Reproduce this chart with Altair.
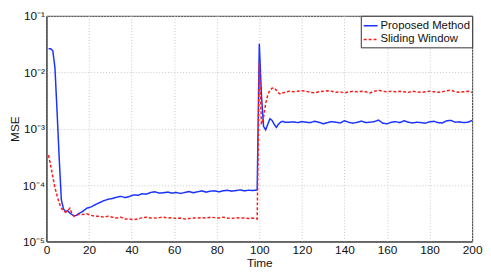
import altair as alt
import pandas as pd

time = [1, 2, 3, 4, 5, 6, 7, 8, 9, 10, 11, 12, 13, 14, 15,
        17, 19, 21, 23, 25, 27, 29, 31, 33, 35, 37, 39, 41, 43, 45, 47, 49,
        51, 53, 55, 57, 59, 61, 63, 65, 67, 69, 71, 73, 75, 77, 79, 81, 83,
        85, 87, 89, 91, 93, 95, 97, 99,
        100, 101, 102, 103, 104, 105, 106, 107, 108, 109, 110, 111, 112,
        114, 116, 118, 120, 122, 124, 126, 128, 130, 132, 134, 136, 138, 140,
        142, 144, 146, 148, 150, 152, 154, 156, 158, 160, 162, 164, 166, 168,
        170, 172, 174, 176, 178, 180, 182, 184, 186, 188, 190, 192, 194, 196,
        198, 200]

proposed = [0.026, 0.026, 0.024, 0.012, 0.002, 0.0003, 5.5e-5, 3.8e-5, 3.4e-5, 3.5e-5,
            3.2e-5, 3.0e-5, 2.85e-5, 2.9e-5, 3.1e-5,
            3.4e-5, 3.9e-5, 4.1e-5, 4.5e-5, 4.9e-5, 5.3e-5, 5.6e-5, 5.8e-5, 6.1e-5, 6.3e-5,
            6.0e-5, 6.3e-5, 6.7e-5, 6.6e-5, 7.0e-5, 6.9e-5, 7.4e-5, 7.6e-5, 7.2e-5, 7.3e-5,
            7.5e-5, 7.2e-5, 7.4e-5, 7.1e-5, 7.4e-5, 7.7e-5, 7.3e-5, 7.6e-5, 7.9e-5, 7.5e-5,
            7.8e-5, 7.9e-5, 7.6e-5, 7.9e-5, 8.1e-5, 7.8e-5, 8.0e-5, 8.2e-5, 7.9e-5, 8.1e-5,
            8.0e-5, 8.2e-5,
            0.032, 0.004, 0.0011, 0.00095, 0.0012, 0.0015, 0.0014, 0.0012, 0.00105, 0.0012,
            0.0013, 0.00135, 0.0013,
            1.30e-3, 1.32e-3, 1.28e-3, 1.33e-3, 1.30e-3, 1.28e-3, 1.35e-3, 1.30e-3, 1.22e-3,
            1.28e-3, 1.33e-3, 1.30e-3, 1.26e-3, 1.38e-3, 1.30e-3, 1.25e-3, 1.30e-3, 1.36e-3,
            1.28e-3, 1.30e-3, 1.33e-3, 1.42e-3, 1.25e-3, 1.22e-3, 1.30e-3, 1.33e-3, 1.28e-3,
            1.38e-3, 1.30e-3, 1.26e-3, 1.30e-3, 1.28e-3, 1.25e-3, 1.32e-3, 1.35e-3, 1.28e-3,
            1.26e-3, 1.38e-3, 1.40e-3, 1.30e-3, 1.32e-3, 1.28e-3, 1.30e-3, 1.40e-3]

sliding = [3.4e-4, 2.2e-4, 1.4e-4, 9e-5, 6.5e-5, 4.8e-5, 3.9e-5, 3.5e-5, 3.3e-5, 3.5e-5,
           3.9e-5, 3.1e-5, 2.8e-5, 2.9e-5, 3.0e-5,
           3.0e-5, 3.1e-5, 2.9e-5, 2.8e-5, 2.8e-5, 2.7e-5, 2.8e-5, 2.7e-5, 2.6e-5, 2.7e-5,
           2.5e-5, 2.5e-5, 2.45e-5, 2.5e-5, 2.65e-5, 2.7e-5, 2.6e-5, 2.6e-5, 2.65e-5, 2.7e-5,
           2.6e-5, 2.65e-5, 2.55e-5, 2.6e-5, 2.5e-5, 2.55e-5, 2.6e-5, 2.6e-5, 2.65e-5, 2.6e-5,
           2.7e-5, 2.65e-5, 2.6e-5, 2.7e-5, 2.6e-5, 2.55e-5, 2.65e-5, 2.6e-5, 2.6e-5, 2.55e-5,
           2.6e-5, 2.5e-5,
           0.015, 0.0012, 0.0016, 0.0028, 0.004, 0.0048, 0.0052, 0.0053, 0.0048, 0.0043,
           0.0041, 0.0043, 0.0044,
           4.6e-3, 4.5e-3, 4.6e-3, 4.7e-3, 4.6e-3, 4.4e-3, 4.3e-3, 4.5e-3, 4.6e-3, 4.7e-3,
           4.6e-3, 4.4e-3, 4.5e-3, 4.3e-3, 4.5e-3, 4.6e-3, 4.5e-3, 4.6e-3, 4.5e-3, 4.3e-3,
           4.6e-3, 4.8e-3, 4.6e-3, 4.5e-3, 4.6e-3, 4.5e-3, 4.6e-3, 4.5e-3, 4.4e-3, 4.6e-3,
           4.5e-3, 4.4e-3, 4.5e-3, 4.6e-3, 4.5e-3, 4.4e-3, 4.5e-3, 4.7e-3, 4.8e-3, 4.5e-3,
           4.4e-3, 4.5e-3, 4.6e-3, 4.4e-3]

series_names = ["Proposed Method", "Sliding Window"]
x_ticks = [0, 20, 40, 60, 80, 100, 120, 140, 160, 180, 200]
y_ticks = [1e-5, 1e-4, 1e-3, 1e-2, 1e-1]

df = pd.concat([
    pd.DataFrame({"Time": time, "MSE": proposed, "series": series_names[0]}),
    pd.DataFrame({"Time": time, "MSE": sliding, "series": series_names[1]}),
])

FONT = "Liberation Sans"

ylabel_expr = ("datum.value < 5e-5 ? '10⁻⁵' : datum.value < 5e-4 ? '10⁻⁴' : "
               "datum.value < 5e-3 ? '10⁻³' : datum.value < 5e-2 ? '10⁻²' : '10⁻¹'")

chart = alt.Chart(df).mark_line(strokeWidth=1.5).encode(
    x=alt.X("Time:Q", scale=alt.Scale(domain=[0, 200], nice=False),
            axis=alt.Axis(values=x_ticks, title="Time", grid=True,
                          gridDash=[1, 2], gridColor="#c8c8c8",
                          tickSize=0, domainColor="#333",
                          labelFont=FONT, labelFontSize=12, labelColor="#111",
                          titleFont=FONT, titleFontSize=12, titleFontWeight="normal",
                          titleColor="#111", titlePadding=2, labelPadding=3,
                          labelFlush=False)),
    y=alt.Y("MSE:Q", scale=alt.Scale(type="log", domain=[1e-5, 1e-1], nice=False),
            axis=alt.Axis(values=y_ticks, title="MSE", grid=True,
                          gridDash=[1, 2], gridColor="#c8c8c8",
                          tickSize=0, domainColor="#333",
                          labelExpr=ylabel_expr,
                          labelFont=FONT, labelFontSize=12, labelColor="#111",
                          titleFont=FONT, titleFontSize=12, titleFontWeight="normal",
                          titleColor="#111", titlePadding=1, labelPadding=2,
                          labelFlush=False)),
    color=alt.Color("series:N", scale=alt.Scale(domain=series_names,
                                                range=["#1a33ff", "#ff1a1a"]),
                    legend=alt.Legend(title=None, orient="top-right", offset=0,
                                      strokeColor="#333", fillColor="white",
                                      padding=2, symbolType="stroke",
                                      symbolStrokeWidth=1.5, symbolSize=200,
                                      labelFont=FONT, labelFontSize=11.5,
                                      labelColor="#111", rowPadding=0,
                                      labelOffset=2)),
    strokeDash=alt.StrokeDash("series:N", scale=alt.Scale(domain=series_names,
                                                          range=[[1, 0], [3, 2]]),
                              legend=None),
).properties(
    width=482, height=262,
    autosize=alt.AutoSizeParams(type="fit", contains="padding"),
    padding={"left": 0, "top": 0, "right": 0, "bottom": 0},
).configure_view(
    stroke="#333", strokeWidth=1
)

chart.save("out.html", embed_options={"renderer": "svg", "actions": False})
